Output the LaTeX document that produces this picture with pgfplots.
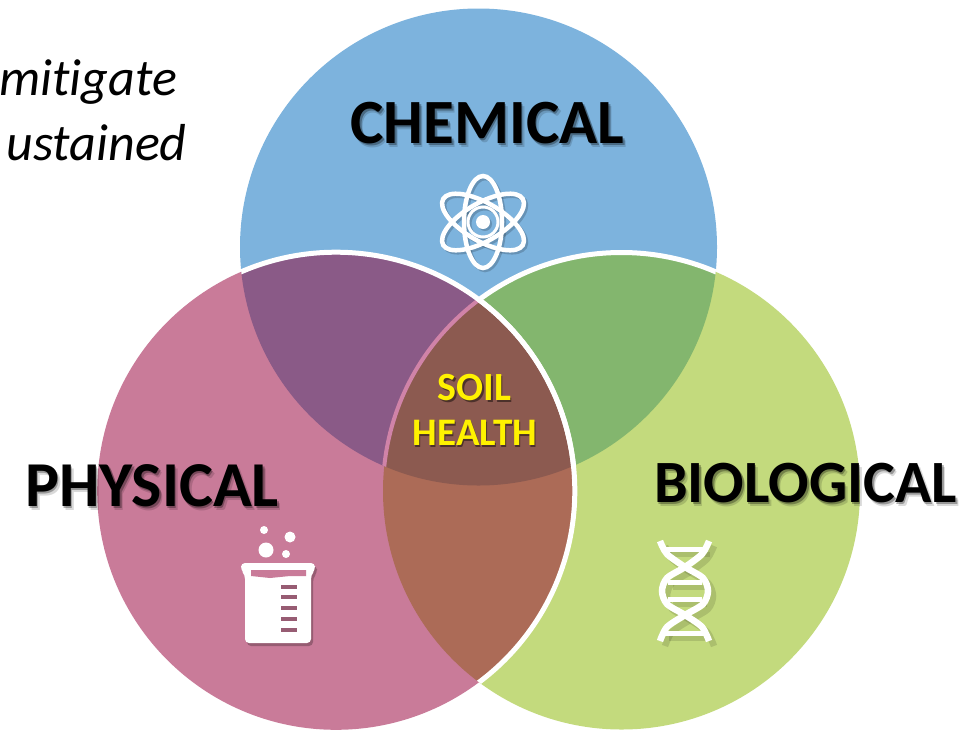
\documentclass[border=0pt]{standalone}
\usepackage{pgfplots}
\pgfplotsset{compat=1.18}
\usepackage{fontspec}
\setmainfont{Carlito}[Ligatures=NoCommon]

\definecolor{cblue}{HTML}{7DB3DD}
\definecolor{cpink}{HTML}{C97B99}
\definecolor{cgreen}{HTML}{C3DA7D}
\definecolor{cpurple}{HTML}{8A5A87}
\definecolor{cdkgreen}{HTML}{83B66E}
\definecolor{corange}{HTML}{AC6B57}
\definecolor{ccentre}{HTML}{8C5A50}
\definecolor{cpinkline}{HTML}{D083A8}
\definecolor{csoil}{HTML}{FFF200}

% circles, in picture pixels
\def\chem{(axis cs:478.5,247) circle [radius=238.5]}
\def\phys{(axis cs:336,491) circle [radius=238.8]}
\def\bio{(axis cs:621.5,491) circle [radius=238.5]}

% label with a soft drop shadow
\newcommand{\shadowlabel}[4]{%
  \node[anchor=base,text=black,opacity=0.15] at (axis cs:#1+3,#2+4) {\fontsize{#3}{#3}\selectfont\bfseries #4};
  \node[anchor=base,text=black,opacity=0.30] at (axis cs:#1+1.5,#2+2) {\fontsize{#3}{#3}\selectfont\bfseries #4};
  \node[anchor=base,text=black] at (axis cs:#1,#2) {\fontsize{#3}{#3}\selectfont\bfseries #4};
}

% atom: colour, opacity, centre
\newcommand{\atom}[4]{%
  \draw[#1,opacity=#2,line width=4.5pt] (axis cs:#3,#4) ellipse [x radius=19,y radius=46];
  \draw[#1,opacity=#2,line width=4.5pt,rotate around={60:(axis cs:#3,#4)}] (axis cs:#3,#4) ellipse [x radius=19,y radius=46];
  \draw[#1,opacity=#2,line width=4.5pt,rotate around={120:(axis cs:#3,#4)}] (axis cs:#3,#4) ellipse [x radius=19,y radius=46];
  \draw[#1,opacity=#2,line width=3pt] (axis cs:#3,#4) circle [radius=15];
  \fill[#1,opacity=#2] (axis cs:#3,#4) circle [radius=7];
}

% dna strands and rungs
\newcommand{\dna}[2]{%
  \addplot[smooth,#1,line width=6.5pt,opacity=#2] coordinates {(660,541) (667,554) (685,567) (703,578) (708,591) (703,604) (685,615) (667,627) (660,641)};
  \addplot[smooth,#1,line width=6.5pt,opacity=#2] coordinates {(709,541) (702,554) (685,567) (667,578) (662,591) (667,604) (685,615) (702,627) (709,641)};
  \addplot[#1,line width=5pt,opacity=#2] coordinates {(664,549) (705,549)};
  \addplot[#1,line width=5pt,opacity=#2] coordinates {(668,582) (702,582)};
  \addplot[#1,line width=5pt,opacity=#2] coordinates {(668,599) (702,599)};
  \addplot[#1,line width=5pt,opacity=#2] coordinates {(664,633) (705,633)};
}

\begin{document}
\begin{tikzpicture}
\path[use as bounding box] (0,0) rectangle (968pt,734pt);
\begin{axis}[
    at={(0,0)},
    anchor=south west,
    scale only axis,
    width=968pt,
    height=734pt,
    xmin=0, xmax=968,
    ymin=0, ymax=734,
    y dir=reverse,
    hide axis,
    clip=false
]

% chemical and biological, with the white edge of biological
\fill[cblue] \chem;
\fill[cgreen] \bio;
\begin{scope}
  \clip \chem;
  \fill[cdkgreen] \bio;
  \draw[white,line width=5pt] \bio;
\end{scope}

% physical covers that edge
\fill[cpink] \phys;
\begin{scope}
  \clip \phys;
  \clip \chem;
  \fill[cpurple] (axis cs:0,0) rectangle (axis cs:968,734);
\end{scope}
\begin{scope}
  \clip \phys;
  \clip \bio;
  \fill[corange] (axis cs:300,200) rectangle (axis cs:700,734);
  \clip \chem;
  \fill[ccentre] (axis cs:300,200) rectangle (axis cs:700,734);
\end{scope}
\begin{scope}
  \clip \phys;
  \clip \chem;
  \draw[cpinkline,line width=4pt] \bio;
\end{scope}
% white edge of physical only where it crosses the other circles
\begin{scope}
  \clip \chem;
  \draw[white,line width=5pt] \phys;
\end{scope}
\begin{scope}
  \clip \bio;
  \draw[white,line width=5pt] \phys;
\end{scope}

% text
\node[anchor=base west] at (axis cs:-4,95) {\fontsize{52}{52}\selectfont\itshape mitigate};
\node[anchor=base west] at (axis cs:3,160) {\fontsize{52}{52}\selectfont\itshape ustained};

\shadowlabel{487.5}{143}{63}{CHEMICAL}
\shadowlabel{152}{506}{64}{PHYSICAL}
\shadowlabel{805.5}{502}{60}{BIOLOGICAL}

\node[anchor=base,text=black,opacity=0.45] at (axis cs:476,402) {\fontsize{40}{40}\selectfont\bfseries SOIL};
\node[anchor=base,text=black,opacity=0.45] at (axis cs:476,447) {\fontsize{39}{39}\selectfont\bfseries HEALTH};
\node[anchor=base,text=csoil] at (axis cs:474.5,400) {\fontsize{40}{40}\selectfont\bfseries SOIL};
\node[anchor=base,text=csoil] at (axis cs:475,445) {\fontsize{39}{39}\selectfont\bfseries HEALTH};

% atom
\atom{black}{0.18}{485}{224}
\atom{white}{1}{483}{222}

% beaker
\addplot[draw=none,fill=black,opacity=0.25,rounded corners=4pt,xshift=2pt,yshift=-3pt] coordinates {(241,563) (315,563) (315,570) (311,575) (311,643) (245,643) (245,575) (241,570)} --cycle;
\addplot[draw=none,fill=white,rounded corners=4pt] coordinates {(241,563) (315,563) (315,570) (311,575) (311,643) (245,643) (245,575) (241,570)} --cycle;
\addplot[draw=none,fill=cpink] coordinates {(251,570) (306,570) (306,576) (290,576) (270,578) (251,576)} --cycle;
\addplot[cpink!75!black,line width=3.5pt] coordinates {(281,587) (297,587)};
\addplot[cpink!75!black,line width=3.5pt] coordinates {(281,597) (297,597)};
\addplot[cpink!75!black,line width=3.5pt] coordinates {(281,608) (297,608)};
\addplot[cpink!75!black,line width=3.5pt] coordinates {(281,619) (297,619)};
\addplot[cpink!75!black,line width=3.5pt] coordinates {(281,630) (297,630)};
\fill[white] (axis cs:264,530) circle [radius=4];
\fill[white] (axis cs:290,537) circle [radius=5.5];
\fill[white] (axis cs:266,550) circle [radius=7.5];
\fill[white] (axis cs:286,554) circle [radius=4];

% dna
\begin{scope}[xshift=2.5pt,yshift=-2.5pt]
\dna{black}{0.12}
\end{scope}
\dna{white}{1}

\end{axis}
\end{tikzpicture}
\end{document}
